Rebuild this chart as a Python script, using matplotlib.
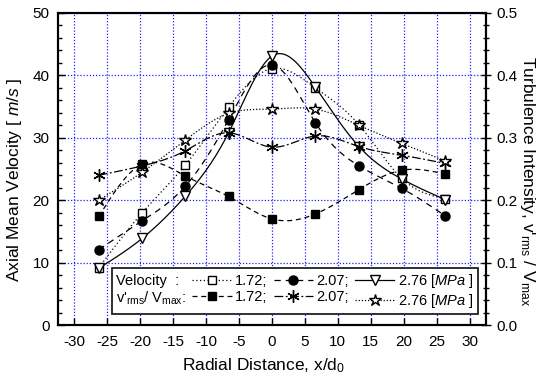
import numpy as np
import matplotlib
matplotlib.use('Agg')
import matplotlib.pyplot as plt
from matplotlib.lines import Line2D

plt.rcParams['font.family'] = ['Liberation Sans', 'DejaVu Sans']
plt.rcParams['mathtext.fontset'] = 'custom'
plt.rcParams['mathtext.rm'] = 'Liberation Sans'
plt.rcParams['mathtext.it'] = 'Liberation Sans:italic'
plt.rcParams['axes.unicode_minus'] = False
plt.rcParams['font.size'] = 10.5

# Radial positions x/d0
x_pos = [-26.3, -19.7, -13.2, -6.6, 0.0, 6.6, 13.2, 19.7, 26.3]

# Axial mean velocity [m/s] at 1.72, 2.07, 2.76 MPa
vel_172 = [9.2, 18.0, 25.6, 34.9, 41.1, 38.0, 32.1, 23.5, 20.2]
vel_207 = [12.1, 16.7, 22.2, 32.9, 41.7, 32.4, 25.5, 21.9, 17.5]
vel_276 = [9.1, 13.9, 20.6, 30.8, 43.1, 38.1, 28.6, 23.4, 20.1]

# Turbulence intensity v'rms / Vmax
ti_172 = [0.174, 0.258, 0.239, 0.206, 0.170, 0.178, 0.217, 0.248, 0.242]
ti_207 = [0.240, 0.255, 0.279, 0.308, 0.285, 0.303, 0.286, 0.272, 0.259]
ti_276 = [0.200, 0.245, 0.296, 0.339, 0.346, 0.346, 0.320, 0.291, 0.263]

x_ticks = [-30, -25, -20, -15, -10, -5, 0, 5, 10, 15, 20, 25, 30]


def spline(x, y, n=300):
    # natural cubic spline, only used to draw the connecting line like Origin does
    x = np.asarray(x, float)
    y = np.asarray(y, float)
    k = len(x)
    h = np.diff(x)
    A = np.zeros((k, k))
    b = np.zeros(k)
    A[0, 0] = A[-1, -1] = 1
    for i in range(1, k - 1):
        A[i, i - 1] = h[i - 1]
        A[i, i] = 2 * (h[i - 1] + h[i])
        A[i, i + 1] = h[i]
        b[i] = 3 * ((y[i + 1] - y[i]) / h[i] - (y[i] - y[i - 1]) / h[i - 1])
    c = np.linalg.solve(A, b)
    xs = np.linspace(x[0], x[-1], n)
    idx = np.clip(np.searchsorted(x, xs) - 1, 0, k - 2)
    dx = xs - x[idx]
    hi = h[idx]
    bb = (y[idx + 1] - y[idx]) / hi - hi * (2 * c[idx] + c[idx + 1]) / 3
    dd = (c[idx + 1] - c[idx]) / (3 * hi)
    ys = y[idx] + bb * dx + c[idx] * dx ** 2 + dd * dx ** 3
    return xs, ys


fig = plt.figure(figsize=(5.39, 3.80), dpi=100)
ax = fig.add_axes([0.1076, 0.1447, 0.7941, 0.8211])
ax2 = ax.twinx()

lw = 0.9
styles = [
    # (axis, data, marker, face, linestyle, size)
    (ax, vel_172, 's', 'white', (0, (1, 2)), 6),
    (ax, vel_207, 'o', 'black', (0, (5, 4)), 6.5),
    (ax, vel_276, 'v', 'white', '-', 7.5),
    (ax2, ti_172, 's', 'black', (0, (4, 3)), 6),
    (ax2, ti_207, (6, 2, 0), 'black', (0, (7, 2, 1.5, 2)), 9),
    (ax2, ti_276, '*', 'white', (0, (1, 1.5)), 9),
]

handles = []
for a, vals, mk, fc, ls, ms in styles:
    xs, ys = spline(x_pos, vals)
    a.plot(xs, ys, color='black', lw=lw, linestyle=ls)
    a.plot(x_pos, vals, linestyle='none', marker=mk, markersize=ms,
           markerfacecolor=fc, markeredgecolor='black', markeredgewidth=1)
    handles.append(Line2D([], [], color='black', lw=lw, linestyle=ls, marker=mk,
                          markersize=ms, markerfacecolor=fc,
                          markeredgecolor='black', markeredgewidth=1))

ax.set_xlim(-32.5, 32.5)
ax.set_ylim(0, 50)
ax2.set_ylim(0, 0.5)
ax.set_xticks(x_ticks)
ax.set_yticks([0, 10, 20, 30, 40, 50])
ax.set_yticks(np.arange(0, 51, 2), minor=True)
ax2.set_yticks([0.0, 0.1, 0.2, 0.3, 0.4, 0.5])
ax2.set_yticks(np.arange(0, 0.51, 0.02), minor=True)
ax2.yaxis.set_major_formatter(matplotlib.ticker.FormatStrFormatter('%.1f'))

ax.tick_params(axis='both', which='both', direction='in', top=False, right=False,
               labelsize=11)
ax.tick_params(axis='both', which='major', length=5, width=1)
ax.tick_params(axis='y', which='minor', length=3, width=1)
ax.tick_params(axis='x', which='major', pad=7)
ax.tick_params(axis='y', which='major', pad=6)
ax2.tick_params(axis='y', which='both', direction='inout', width=1, labelsize=11)
ax2.tick_params(axis='y', which='major', length=7, pad=4)
ax2.tick_params(axis='y', which='minor', length=5)

ax.grid(True, which='major', color='#2020ff', linestyle=(0, (1, 1.5)), linewidth=0.9)
for s in ax.spines.values():
    s.set_linewidth(1.5)
for s in ax2.spines.values():
    s.set_linewidth(1.5)

ax.set_xlabel('Radial Distance, x/d$_0$', fontsize=12.5)
ax.xaxis.set_label_coords(0.481, -0.1)
ax.set_ylabel('Axial Mean Velocity [ $\\mathit{m/s}$ ]', fontsize=12.5)
ax.yaxis.set_label_coords(-0.08, 0.465)
ax2.set_ylabel("Turbulence Intensity, v'$_{\\mathrm{rms}}$ / V$_{\\mathrm{max}}$",
               rotation=270, va='center', fontsize=12.5)
ax2.yaxis.set_label_coords(1.098, 0.46)

blank = Line2D([], [], linestyle='none')
leg_handles = [blank, blank, handles[0], handles[3], handles[1], handles[4],
               handles[2], handles[5]]
leg_labels = ['Velocity  :', "v'$_{\\mathrm{rms}}$/ V$_{\\mathrm{max}}$:", '1.72;', '1.72;',
              '2.07;', '2.07;', '2.76 [$\\mathit{MPa}$ ]', '2.76 [$\\mathit{MPa}$ ]']
leg = ax2.legend(leg_handles, leg_labels, ncol=4, loc='lower left',
                 bbox_to_anchor=(0.126, 0.035), borderaxespad=0,
                 handlelength=2.7, handletextpad=0.25, columnspacing=0.4,
                 labelspacing=0.1, borderpad=0.3, fancybox=False,
                 framealpha=1, edgecolor='#202020', fontsize=10.5)
leg.get_frame().set_linewidth(1.3)
# drop the empty handle box in the first column so the row titles sit at the left edge
col0 = leg._legend_handle_box.get_children()[0]
for item in col0.get_children():
    item.sep = 0
    item.get_children()[0].width = 0

fig.savefig('out.png', dpi=100)
